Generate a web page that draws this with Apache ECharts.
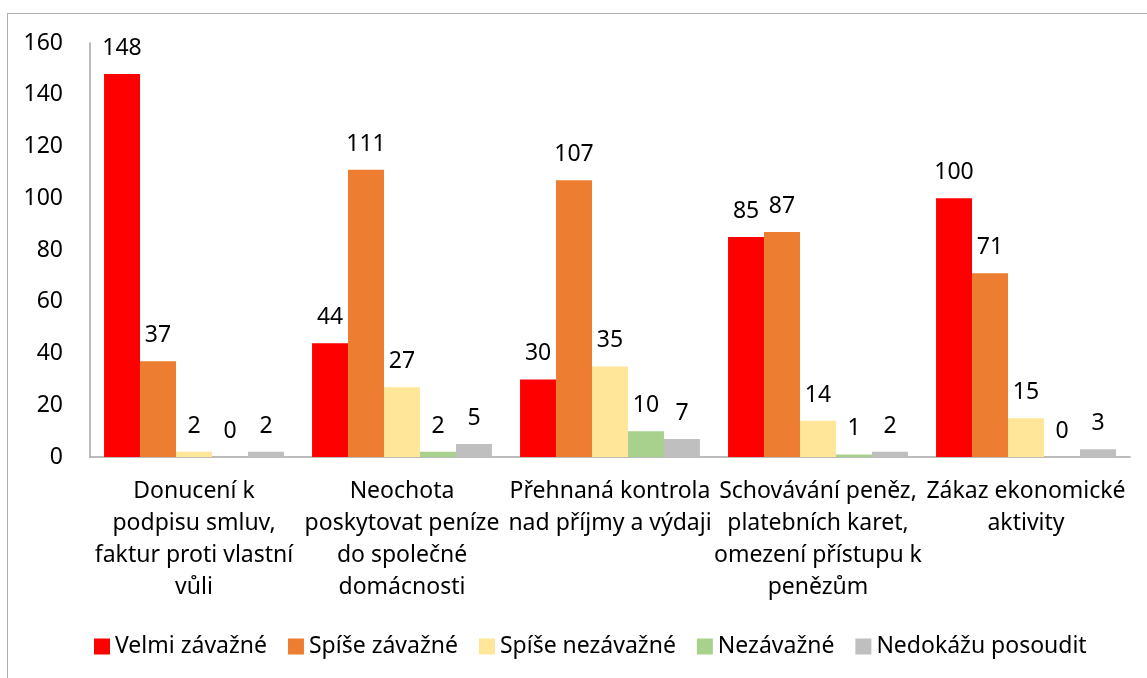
<!DOCTYPE html>
<html>
<head>
<meta charset="utf-8">
<script src="https://cdn.jsdelivr.net/npm/echarts@6/dist/echarts.min.js"></script>
<style>
  html, body { margin: 0; padding: 0; background: #fff; }
  #frame { position: absolute; left: 7px; top: 13px; width: 1147px; height: 678px;
           border-left: 1.5px solid #b0b0b0; border-top: 1.5px solid #b0b0b0; }
  #main { position: absolute; left: 0; top: 0; width: 1147px; height: 678px; }
</style>
</head>
<body>
<div id="frame"></div>
<div id="main"></div>
<script>
var categories = [
    'Donucení k\npodpisu smluv,\nfaktur proti vlastní\nvůli',
    'Neochota\nposkytovat peníze\ndo společné\ndomácnosti',
    'Přehnaná kontrola\nnad příjmy a výdaji',
    'Schovávání peněz,\nplatebních karet,\nomezení přístupu k\npenězům',
    'Zákaz ekonomické\naktivity'
];
var seriesNames = ['Velmi závažné', 'Spíše závažné', 'Spíše nezávažné', 'Nezávažné', 'Nedokážu posoudit'];
var velmi = [148, 44, 30, 85, 100];
var spiseZav = [37, 111, 107, 87, 71];
var spiseNezav = [2, 27, 35, 14, 15];
var nezav = [0, 2, 10, 1, 0];
var nedokazu = [2, 5, 7, 2, 3];
var colors = ['#ff0000', '#ed7d31', '#ffe699', '#a9d18e', '#bfbfbf'];

var dom = document.getElementById('main');
var myChart = echarts.init(dom);
var font = '"Noto Sans", "Open Sans", sans-serif';

var labelOption = {
    show: true,
    position: 'top',
    distance: 14,
    color: '#000',
    fontSize: 23,
    fontFamily: font
};

var allData = [velmi, spiseZav, spiseNezav, nezav, nedokazu];
var series = [];
for (var i = 0; i < seriesNames.length; i++) {
    series.push({
        name: seriesNames[i],
        type: 'bar',
        barGap: '0%',
        barCategoryGap: '13.5%',
        label: labelOption,
        itemStyle: { color: colors[i] },
        data: allData[i]
    });
}

var option = {
    animation: false,
    color: colors,
    textStyle: { fontFamily: font },
    grid: { left: 90, right: 17, top: 43, bottom: 221 },
    legend: {
        data: seriesNames,
        top: 630,
        left: 89,
        itemWidth: 16,
        itemHeight: 16,
        itemGap: 21,
        icon: 'rect',
        textStyle: { fontSize: 23, color: '#000', fontFamily: font }
    },
    xAxis: {
        type: 'category',
        data: categories,
        axisTick: { show: false },
        axisLine: { lineStyle: { color: '#a6a6a6', width: 1.5 } },
        axisLabel: {
            interval: 0,
            margin: 18,
            fontSize: 23,
            lineHeight: 32,
            color: '#000',
            fontFamily: font
        }
    },
    yAxis: {
        type: 'value',
        min: 0,
        max: 160,
        interval: 20,
        splitLine: { show: false },
        axisLine: { show: true, lineStyle: { color: '#a6a6a6', width: 1.5 } },
        axisTick: { show: false },
        axisLabel: { margin: 27, fontSize: 23, color: '#000', fontFamily: font }
    },
    series: series
};
myChart.setOption(option, true);
</script>
</body>
</html>
